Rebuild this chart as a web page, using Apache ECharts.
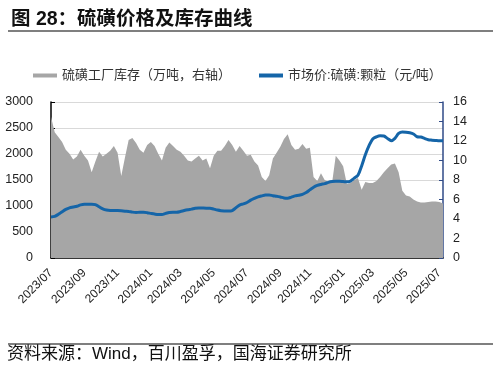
<!DOCTYPE html>
<html><head><meta charset="utf-8">
<script src="https://cdn.jsdelivr.net/npm/echarts@6/dist/echarts.min.js"></script>
<style>html,body{margin:0;padding:0;background:#fff}#c{width:498px;height:372px}</style>
</head><body><div id="c"></div>
<script>
// weekly dates starting 2023-07-01
const startDate = '2023-07-01';
const weekCount = 107;
const categories = [];
(function(){ const d0 = new Date(startDate + 'T00:00:00Z'); for (let i=0;i<weekCount;i++){ const d=new Date(d0.getTime()+i*7*86400000); categories.push(d.toISOString().slice(0,10)); } })();

// 硫磺工厂库存（万吨，右轴）
const inventory = [14.5,12.9,12.4,11.9,11.1,10.7,10.1,10.4,11.1,10.5,10.0,8.8,9.9,10.9,10.4,10.7,11.0,11.5,10.8,8.4,
10.3,12.1,12.3,11.8,11.1,10.8,11.6,11.9,11.5,10.7,10.0,11.3,11.85,11.5,11.1,10.9,10.5,10.0,9.9,10.2,
10.5,10.0,10.2,9.2,10.5,11.0,11.0,11.5,12.1,11.6,10.9,11.5,11.0,10.5,10.6,9.9,9.5,8.3,7.9,8.5,
10.2,10.8,11.4,12.2,12.7,11.6,11.1,11.2,11.7,11.2,11.3,8.3,7.9,8.7,8.0,7.8,7.7,10.5,10.0,9.4,
7.6,7.7,8.0,8.2,7.0,7.8,7.7,7.7,7.9,8.3,8.8,9.2,9.6,9.7,8.8,6.9,6.4,6.3,6.0,5.8,
5.7,5.7,5.75,5.8,5.8,5.75,5.6];
// 市场价:硫磺:颗粒（元/吨）
const price = [790,800,840,890,935,965,980,995,1022,1035,1035,1035,1025,985,945,922,915,915,912,907,
900,895,882,875,880,880,872,858,845,836,836,858,876,880,880,893,912,928,940,958,
963,960,958,958,940,922,910,905,902,912,965,1018,1040,1068,1112,1145,1175,1195,1212,1213,
1198,1187,1173,1155,1150,1170,1195,1207,1225,1260,1310,1360,1395,1415,1430,1455,1470,1475,1475,1470,
1465,1480,1535,1590,1770,1985,2160,2290,2330,2350,2345,2300,2255,2300,2395,2425,2420,2408,2385,2332,
2326,2300,2275,2266,2260,2255,2255];

const seriesNames = ['硫磺工厂库存（万吨，右轴）','市场价:硫磺:颗粒（元/吨）'];
const titleText = '图 28：硫磺价格及库存曲线';
const sourceText = '资料来源：Wind，百川盈孚，国海证券研究所';

function showTick(idx){ const c=categories[idx]; const m=+c.slice(5,7), d=+c.slice(8,10); return (m%2===1) && d<=7; }

const chart = echarts.init(document.getElementById('c'), null, {renderer:'canvas'});
const cjk = '"Liberation Sans", "Noto Sans CJK SC", sans-serif';
const latin = '"Liberation Sans", Arial, sans-serif';
chart.setOption({
  animation:false,
  title:{text:titleText,left:6,top:5,textStyle:{fontSize:19.5,fontWeight:'bold',color:'#111',fontFamily:cjk}},
  graphic:[
    {type:'line',shape:{x1:8,y1:31,x2:493,y2:31},style:{stroke:'#7f7f7f',lineWidth:2}},
    {type:'line',shape:{x1:8,y1:344,x2:493,y2:344},style:{stroke:'#7f7f7f',lineWidth:2}},
    {type:'text',left:7,top:346,style:{text:sourceText,fontSize:17,fill:'#111',fontFamily:cjk}}
  ],
  legend:{left:28,top:64,itemWidth:24,itemHeight:4,itemGap:28,
    textStyle:{fontSize:13,color:'#333',fontFamily:cjk},
    data:[{name:seriesNames[0],icon:'rect'},{name:seriesNames[1],icon:'rect'}]},
  grid:{left:51,right:55,top:102,bottom:114,containLabel:false},
  xAxis:{type:'category',data:categories,boundaryGap:false,
    axisLine:{lineStyle:{color:'#000',width:1.5}},
    axisTick:{inside:true,length:4,interval:showTick,lineStyle:{color:'#000'}},
    axisLabel:{interval:showTick,rotate:45,fontSize:12,color:'#222',margin:13,fontFamily:latin,
      formatter:v=>v.slice(0,4)+'/'+v.slice(5,7)}},
  yAxis:[
    {type:'value',min:0,max:3000,interval:500,
      axisLine:{show:true,lineStyle:{color:'#000',width:1.5}},
      axisTick:{show:true,inside:true,length:4,lineStyle:{color:'#000'}},
      splitLine:{lineStyle:{color:'#d9d9d9',width:1}},
      axisLabel:{fontSize:12.5,color:'#222',margin:18,fontFamily:latin,formatter:v=>String(v)}},
    {type:'value',min:0,max:16,interval:2,position:'right',
      axisLine:{show:true,lineStyle:{color:'#2f4a87',width:1.5}},
      axisTick:{show:true,inside:true,length:4,lineStyle:{color:'#2f4a87'}},
      splitLine:{show:false},
      axisLabel:{fontSize:12.5,color:'#222',margin:10,fontFamily:latin,formatter:v=>String(v)}}
  ],
  series:[
    {name:seriesNames[0],type:'line',yAxisIndex:1,data:inventory,symbol:'none',
      lineStyle:{width:0},areaStyle:{color:'#a6a6a6',opacity:1},itemStyle:{color:'#a6a6a6'},z:1},
    {name:seriesNames[1],type:'line',yAxisIndex:0,data:price,symbol:'none',smooth:0.3,
      lineStyle:{width:3,color:'#1565a8'},itemStyle:{color:'#1565a8'},z:3}
  ]
});
</script></body></html>
